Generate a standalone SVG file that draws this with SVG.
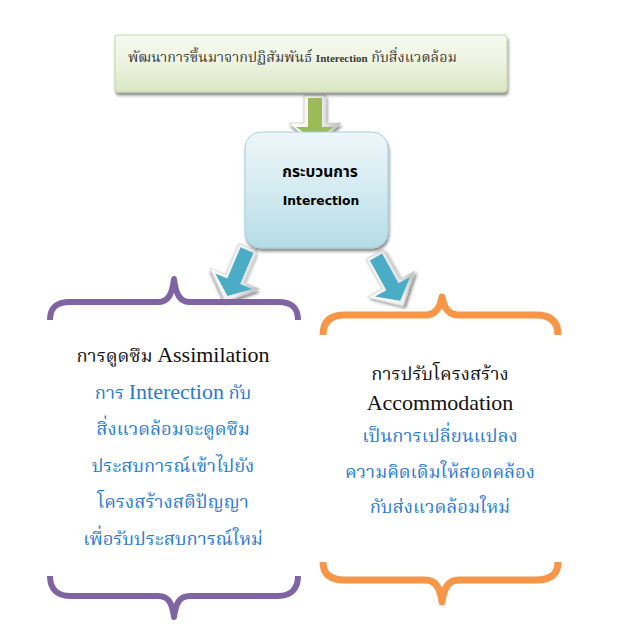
<svg xmlns="http://www.w3.org/2000/svg" width="631" height="636" viewBox="0 0 631 636">
<defs>
<linearGradient id="gTop" x1="0" y1="0" x2="0" y2="1">
<stop offset="0" stop-color="#f6f9f0"/><stop offset="0.45" stop-color="#eef4e2"/><stop offset="1" stop-color="#d9e6c3"/>
</linearGradient>
<linearGradient id="gMid" x1="0" y1="0" x2="0" y2="1">
<stop offset="0" stop-color="#eef7fa"/><stop offset="0.5" stop-color="#d3ebf1"/><stop offset="1" stop-color="#b5dce6"/>
</linearGradient>
<linearGradient id="gOut" x1="0" y1="0" x2="1" y2="0">
<stop offset="0" stop-color="#ffffff"/><stop offset="0.6" stop-color="#eeeeee"/><stop offset="1" stop-color="#b8bcbc"/>
</linearGradient>
<filter id="sh" x="-10%" y="-10%" width="120%" height="130%">
<feGaussianBlur in="SourceAlpha" stdDeviation="1.5"/><feOffset dx="1" dy="2.5"/>
<feComponentTransfer><feFuncA type="linear" slope="0.45"/></feComponentTransfer>
<feMerge><feMergeNode/><feMergeNode in="SourceGraphic"/></feMerge>
</filter>
<g id="arrowShape">
<path d="M-10,-3 H10 V31 H27 L0,56 L-27,31 H-10 Z" fill="url(#gOut)" stroke="#c9cdcd" stroke-width="0.8"/>
</g>
</defs>
<style>
.th{font-family:"Liberation Serif","Noto Serif Thai","Noto Sans Thai","DejaVu Serif",serif;}
.blk{fill:#111111;font-size:18.4px;text-anchor:middle;}
.blu{fill:#2a7bd3;font-size:18.4px;text-anchor:middle;}
.lat{font-size:22px;}
.brP{fill:none;stroke:#8064a2;stroke-width:6;stroke-linejoin:round;}
.brO{fill:none;stroke:#f79646;stroke-width:7;stroke-linejoin:round;}
</style>
<rect width="631" height="636" fill="#ffffff"/>
<g id="connectors">
<g id="arrow-top">
<path d="M304,95 H326 V123 H341 L315,146 L289,123 H304 Z" fill="url(#gOut)" stroke="#c9cdcd" stroke-width="0.8" filter="url(#sh)"/>
<path d="M308,98 H322 V127 H334 L315,140 L296,127 H308 Z" fill="#9bbb59"/>
</g>
<g id="arrow-left" transform="translate(247,250) rotate(23)">
<use href="#arrowShape" filter="url(#sh)"/>
<path d="M-7,0 H7 V34 H20 L0,50 L-20,34 H-7 Z" fill="#4bacc6"/>
</g>
<g id="arrow-right" transform="translate(376,257) rotate(-29)">
<use href="#arrowShape" filter="url(#sh)"/>
<path d="M-7,0 H7 V34 H20 L0,50 L-20,34 H-7 Z" fill="#4bacc6"/>
</g>
</g>
<g id="node-top">
<rect x="115" y="35" width="392" height="57" rx="3" fill="url(#gTop)" stroke="#c4d79f" stroke-width="1" filter="url(#sh)"/>
<text x="128" y="62" class="th" font-size="14.3" fill="#3a3a3a">พัฒนาการขึ้นมาจากปฏิสัมพันธ์ <tspan font-weight="bold" font-size="11">Interection</tspan> กับสิ่งแวดล้อม</text>
</g>
<g id="node-process">
<rect x="245" y="132" width="143" height="116" rx="16" fill="url(#gMid)" stroke="#a3d2de" stroke-width="1" filter="url(#sh)"/>
<text x="320" y="177" font-family="Tahoma,'DejaVu Sans','Noto Sans Thai',sans-serif" font-weight="bold" font-size="15.5" fill="#000000" text-anchor="middle">กระบวนการ</text>
<text x="321" y="205" font-family="'DejaVu Sans',sans-serif" font-weight="bold" font-size="12.3" fill="#000000" text-anchor="middle">Interection</text>
</g>
<g id="node-assimilation">
<path class="brP" d="M50,320 C50,308 56,302 70,302 H158 C168,302 172,295 174,279 C176,295 180,302 190,302 H278 C292,302 298,308 298,320"/>
<path class="brP" d="M50,576 C50,588 56,596 70,596 H158 C168,596 172,602 174,617 C176,602 180,596 190,596 H278 C292,596 298,588 298,576"/>
<text class="th blk" x="173" y="362">การดูดซึม <tspan class="lat">Assimilation</tspan></text>
<text class="th blu" x="173" y="399">การ <tspan class="lat">Interection</tspan> กับ</text>
<text class="th blu" x="173" y="435">สิ่งแวดล้อมจะดูดซึม</text>
<text class="th blu" x="173" y="472">ประสบการณ์เข้าไปยัง</text>
<text class="th blu" x="173" y="508">โครงสร้างสติปัญญา</text>
<text class="th blu" x="173" y="545">เพื่อรับประสบการณ์ใหม่</text>
</g>
<g id="node-accommodation">
<path class="brO" d="M323,335 C323,322 330,315 345,315 H425 C436,315 440,308 442,297 C444,308 448,315 459,315 H536 C551,315 558,322 558,335"/>
<path class="brO" d="M323,562 C323,574 330,580 345,580 H425 C436,580 440,588 442,602 C444,588 448,580 459,580 H536 C551,580 558,574 558,562"/>
<text class="th blk" x="440" y="380">การปรับโครงสร้าง</text>
<text class="th blk lat" x="440" y="410">Accommodation</text>
<text class="th blu" x="440" y="442">เป็นการเปลี่ยนแปลง</text>
<text class="th blu" x="440" y="478">ความคิดเดิมให้สอดคล้อง</text>
<text class="th blu" x="440" y="513">กับส่งแวดล้อมใหม่</text>
</g>
</svg>
